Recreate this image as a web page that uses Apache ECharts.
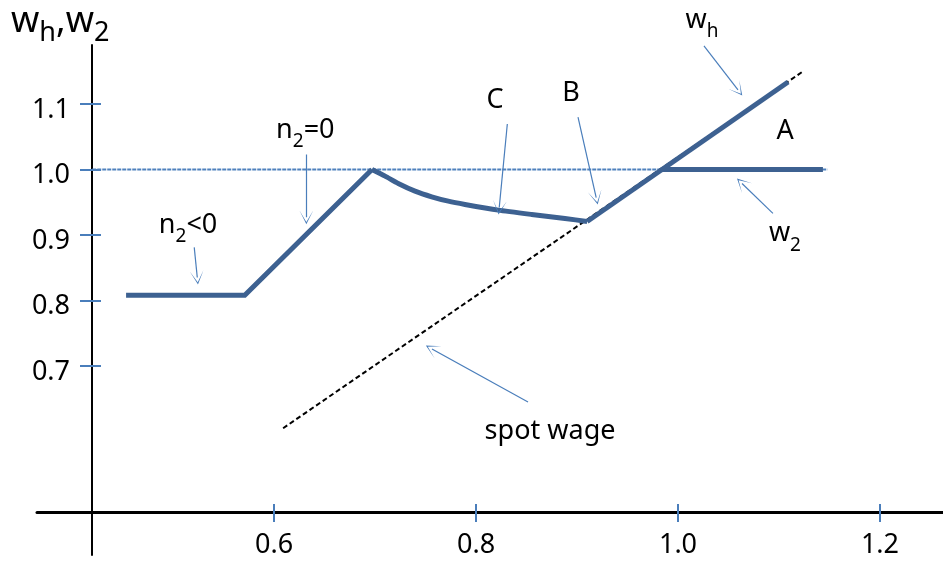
<!DOCTYPE html>
<html lang="en">
<head>
    <meta charset="UTF-8">
    <title>wh, w2</title>
    <script type="text/javascript" src="https://cdn.jsdelivr.net/npm/echarts@6/dist/echarts.min.js"></script>
    <style>
        html, body { margin: 0; padding: 0; background: #fff; }
    </style>
</head>
<body>
<div id="chartmain" style="width:943px;height:567px"></div>
<script>
    var FONT = "'Noto Sans', sans-serif";

    // axes
    var xRange = [0.3653, 1.2624];
    var yRange = [0.4115, 1.190];
    var xTicks = [0.6, 0.8, 1.0, 1.2];
    var yTicks = [0.7, 0.8, 0.9, 1.0, 1.1];

    // curves
    var refLine = [[0.42, 1.0], [1.148, 1.0]];
    var spotWage = [[0.609, 0.605], [1.124, 1.150]];
    var whLeft = [[0.4535, 0.808], [0.571, 0.808], [0.697, 1.0]];
    var whCurve = [[0.697, 1.0], [0.710, 0.9898], [0.723, 0.9786], [0.7396, 0.9669],
                   [0.7561, 0.9583], [0.7726, 0.9516], [0.7891, 0.9466], [0.8221, 0.9379],
                   [0.8551, 0.9313], [0.8881, 0.9252], [0.910, 0.9206]];
    var whRight = [[0.910, 0.9206], [1.109, 1.1336]];
    var w2Line = [[0.983, 1.0], [1.1435, 1.0]];

    // arrows: x1, y1 -> x2, y2
    var arrows = [
        [0.521, 0.881, 0.524, 0.835],
        [0.632, 1.023, 0.632, 0.927],
        [0.831, 1.0695, 0.823, 0.942],
        [0.901, 1.080, 0.919, 0.957],
        [1.0257, 1.1886, 1.0594, 1.1214],
        [1.094, 0.933, 1.0634, 0.9786],
        [0.8515, 0.645, 0.7564, 0.726]
    ];

    // text notes
    var notes = [
        [0.5149, 0.9145, '{m|n}{s|2}{m|<0}'],
        [0.631, 1.0595, '{m|n}{s|2}{m|=0}'],
        [0.8188, 1.106, '{m|C}'],
        [0.894, 1.1168, '{m|B}'],
        [1.106, 1.058, '{m|A}'],
        [1.0238, 1.228, '{m|w}{s|h}'],
        [1.1059, 0.902, '{m|w}{s|2}'],
        [0.8733, 0.600, '{m|spot wage}']
    ];

    var tickStyle = {color: '#4a7ebb', width: 2};
    var thick = {color: '#3d6191', width: 5, join: 'miter'};

    function fmt(v) { return v.toFixed(1); }

    var option = {
        animation: false,
        title: {
            text: '{w|w}{s|h}{w|,w}{s|2}',
            left: 11,
            top: -4,
            padding: 0,
            textStyle: {
                fontWeight: 'normal',
                rich: {
                    w: {fontSize: 36, fontFamily: FONT, fontWeight: 'normal', color: '#000'},
                    s: {fontSize: 27, fontFamily: FONT, fontWeight: 'normal', color: '#000', padding: [24, 0, 0, 0]}
                }
            }
        },
        grid: {left: 37, right: 0, top: 45, bottom: 12, containLabel: false, outerBoundsMode: 'none'},
        xAxis: [
            {
                type: 'value', min: xRange[0], max: xRange[1], position: 'bottom', offset: -43,
                axisLine: {onZero: false, lineStyle: {color: '#000', width: 3}},
                axisTick: {show: true, inside: true, length: 8, customValues: xTicks, lineStyle: tickStyle},
                axisLabel: {customValues: xTicks, formatter: fmt, margin: 20, fontSize: 27, fontFamily: FONT, color: '#000'},
                splitLine: {show: false}
            },
            {
                type: 'value', min: xRange[0], max: xRange[1], position: 'bottom', offset: -43,
                axisLine: {show: false, onZero: false},
                axisTick: {show: true, length: 10, customValues: xTicks, lineStyle: tickStyle},
                axisLabel: {show: false},
                splitLine: {show: false}
            }
        ],
        yAxis: [
            {
                type: 'value', min: yRange[0], max: yRange[1], position: 'left', offset: -55,
                axisLine: {onZero: false, lineStyle: {color: '#000', width: 2}},
                axisTick: {show: true, length: 12, customValues: yTicks, lineStyle: tickStyle},
                axisLabel: {
                    customValues: yTicks, margin: 22,
                    formatter: function (v) { return '{a|' + fmt(v) + '}'; },
                    rich: {a: {fontSize: 27, fontFamily: FONT, color: '#000', padding: [12, 0, 0, 0]}}
                },
                splitLine: {show: false}
            },
            {
                type: 'value', min: yRange[0], max: yRange[1], position: 'left', offset: -55,
                axisLine: {show: false, onZero: false},
                axisTick: {show: true, inside: true, length: 9, customValues: yTicks, lineStyle: tickStyle},
                axisLabel: {show: false},
                splitLine: {show: false}
            }
        ],
        series: [
            {
                name: 'ref', type: 'line', data: refLine, symbol: 'none',
                lineStyle: {color: '#4f81bd', width: 2, type: [4, 1]}, z: 1
            },
            {
                name: 'spot wage', type: 'line', data: spotWage, symbol: 'none',
                lineStyle: {color: '#000', width: 2, type: [5, 3]}, z: 2
            },
            {name: 'wh1', type: 'line', data: whLeft, symbol: 'none', lineStyle: thick, z: 3},
            {name: 'wh2', type: 'line', data: whCurve, symbol: 'none', smooth: 0.2, lineStyle: thick, z: 3},
            {name: 'wh3', type: 'line', data: whRight, symbol: 'none', lineStyle: thick, z: 3},
            {name: 'w2', type: 'line', data: w2Line, symbol: 'none', lineStyle: thick, z: 3},
            {
                name: 'arrows', type: 'lines', coordinateSystem: 'cartesian2d', z: 4,
                data: arrows.map(function (a) { return {coords: [[a[0], a[1]], [a[2], a[3]]]}; }),
                symbol: ['none', 'path://M0,10 L5,0 L10,10 L5,1.6 Z'],
                symbolSize: [10, 14],
                lineStyle: {color: '#4a7ebb', width: 1.2, opacity: 1, curveness: 0}
            },
            {
                name: 'notes', type: 'scatter', data: notes, symbolSize: 0, clip: false, z: 5,
                itemStyle: {opacity: 1},
                label: {
                    show: true, position: 'inside', opacity: 1,
                    formatter: function (p) { return p.data[2]; },
                    rich: {
                        m: {fontSize: 27, fontFamily: FONT, color: '#000'},
                        s: {fontSize: 19, fontFamily: FONT, color: '#000', padding: [23, 0, 0, 0]}
                    }
                }
            }
        ]
    };

    var myChart = echarts.init(document.getElementById('chartmain'));
    myChart.setOption(option);
</script>
</body>
</html>
